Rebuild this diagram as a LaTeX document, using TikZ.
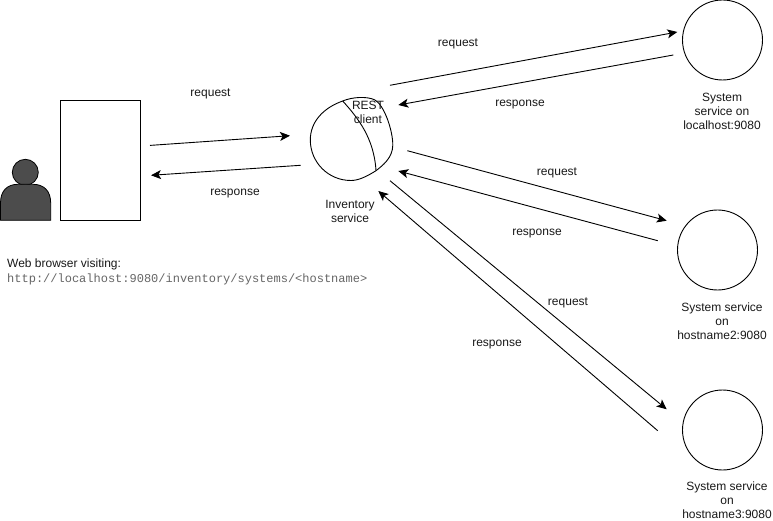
\documentclass[tikz,border=0pt]{standalone}
\usepackage{fontspec}
\setmainfont{Liberation Sans}
\setmonofont{Liberation Mono}
\usetikzlibrary{arrows.meta}
\tikzset{
  lbl/.style={font=\fontsize{12}{14}\selectfont, align=center, inner sep=0pt, text=black!90},
  svc/.style={circle, draw=black, line width=0.9pt, minimum size=80pt, inner sep=0pt},
  conn/.style={draw=black, line width=0.9pt, -{Stealth[length=10pt,width=9pt,inset=2.5pt]}},
  shapeline/.style={draw=black, line width=0.9pt},
  personfill/.style={draw=black, line width=0.8pt, fill=black!70}
}
\begin{document}
\begin{tikzpicture}[x=1pt,y=-1pt]
\useasboundingbox[fill=white] (0,0) rectangle (773,521);

% browser and person
\node[shapeline, draw, minimum width=80pt, minimum height=120pt, inner sep=0pt] (browser) at (100.3,160.3) {};
\node[personfill, draw, circle, minimum size=26pt, inner sep=0pt] (head) at (25.3,172.3) {};
\path[personfill] (0.5,220.3) -- (0.5,203) .. controls (0.5,191) and (7,184.3) .. (18,184.3)
  -- (33,184.3) .. controls (44,184.3) and (50.7,191) .. (50.7,203) -- (50.7,220.3) -- cycle;

% inventory service blob
\path[shapeline] (342.7,101) .. controls (352,97) and (367,96) .. (375,100)
  .. controls (384,105) and (392.8,130) .. (392.8,145)
  .. controls (392.8,158) and (382,166) .. (376,170.7)
  .. controls (366,177) and (358,180.5) .. (351,180.5)
  .. controls (328,180.5) and (310.3,162) .. (310.3,140)
  .. controls (310.3,122) and (323,108) .. (342.7,101) -- cycle;
\path[shapeline] (342.7,101) .. controls (358,118) and (374,138) .. (376,170.7);

% service circles
\node[svc] (sys1) at (722.5,40) {};
\node[svc] (sys2) at (717.5,250) {};
\node[svc] (sys3) at (722.5,430) {};

% connector ends
\coordinate (a1) at (150,145.4);  \coordinate (a2) at (290,135.7);
\coordinate (b1) at (300.7,165.3);\coordinate (b2) at (151,175.3);
\coordinate (c1) at (390,85.3);   \coordinate (c2) at (677.3,32);
\coordinate (d1) at (673.3,55);   \coordinate (d2) at (398.3,105);
\coordinate (e1) at (407.3,150.7);\coordinate (e2) at (666.7,220.7);
\coordinate (f1) at (657.7,240.7);\coordinate (f2) at (398.3,171);
\coordinate (g1) at (390,180.7);  \coordinate (g2) at (666.7,409.3);
\coordinate (h1) at (657.7,430.7);\coordinate (h2) at (378.3,191);

\draw[conn] (a1) -- (a2);
\draw[conn] (b1) -- (b2);
\draw[conn] (c1) -- (c2);
\draw[conn] (d1) -- (d2);
\draw[conn] (e1) -- (e2);
\draw[conn] (f1) -- (f2);
\draw[conn] (g1) -- (g2);
\draw[conn] (h1) -- (h2);

% labels
\node[lbl] (l1) at (210.5,93.5) {request};
\node[lbl] (l2) at (235,193.5) {response};
\node[lbl] (l3) at (458,44) {request};
\node[lbl] (l4) at (520,104.5) {response};
\node[lbl] (l5) at (557,173) {request};
\node[lbl] (l6) at (537,233.5) {response};
\node[lbl] (l7) at (568,303) {request};
\node[lbl] (l8) at (497,344.5) {response};
\node[lbl] (rest) at (368,112) {REST\\client};
\node[lbl] (inv) at (350,211) {Inventory\\service};
\node[lbl] (t1) at (722,111) {System\\service on\\localhost:9080};
\node[lbl] (t2) at (722,321) {System service\\on\\hostname2:9080};
\node[lbl] (t3) at (727,500.5) {System service\\on\\hostname3:9080};
\node[lbl, anchor=west] (web) at (7,264) {Web browser visiting:};
\node[lbl, anchor=west, font=\fontsize{12}{14}\ttfamily, text=black!60] (url) at (7,279) {http://localhost:9080/inventory/systems/<hostname>};
\end{tikzpicture}
\end{document}
